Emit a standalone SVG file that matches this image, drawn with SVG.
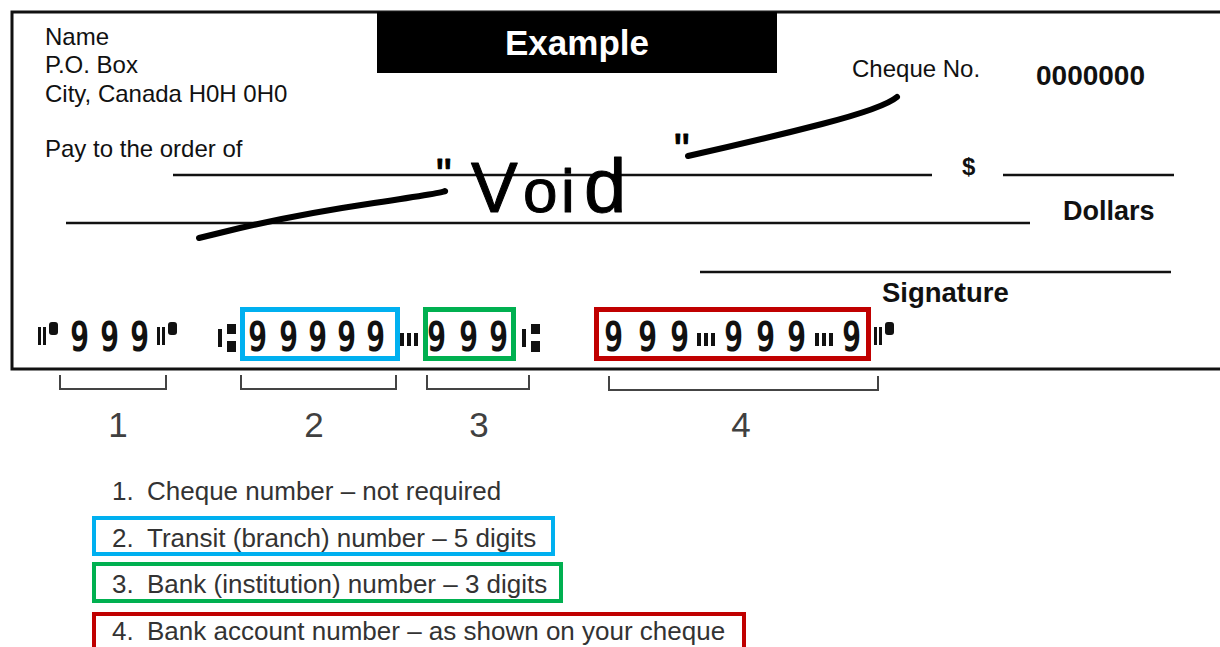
<svg xmlns="http://www.w3.org/2000/svg" width="1220" height="647" viewBox="0 0 1220 647">
<style>
 .t{font-family:"Liberation Sans",Arial,sans-serif;fill:#111}
 .reg{font-size:24px}
 .b{font-weight:bold}
 .rule{stroke:#111;stroke-width:2.5;fill:none}
 .micr{font-family:"DejaVu Sans Mono","Liberation Mono",monospace;font-weight:bold;font-size:40px;fill:#111}
 .sym{fill:#111}
 .box{fill:none;stroke-width:5}
 .lbox{fill:none;stroke-width:4}
 .blue{stroke:#00B0F0}.green{stroke:#00B050}.red{stroke:#C00000}
 .br{fill:none;stroke:#444;stroke-width:2}
 .num{font-family:"Liberation Sans",Arial,sans-serif;font-size:35px;fill:#404040;text-anchor:middle}
 .leg{font-family:"Liberation Sans",Arial,sans-serif;font-size:26px;fill:#333}
 .scr{fill:none;stroke:#000;stroke-width:6;stroke-linecap:round;stroke-linejoin:round}
 .void{font-family:"Liberation Sans",Arial,sans-serif;font-size:70px;fill:#000;stroke:#000;stroke-width:1;stroke-linejoin:round}
</style>
<defs>
 <g id="onus"><rect x="0" y="5" width="3" height="18"/><rect x="5" y="5" width="3" height="18"/><rect x="11" y="0" width="9" height="13" rx="3"/></g>
 <g id="transit"><rect x="0" y="5" width="4" height="18"/><rect x="9" y="0" width="9" height="10"/><rect x="9" y="17" width="9" height="11"/></g>
 <g id="dash"><rect x="0" y="0" width="4" height="13"/><rect x="7" y="0" width="4" height="13"/><rect x="14" y="0" width="4" height="13"/></g>
</defs>

<g id="cheque">
 <path d="M1220,12 H12 V369 H1220" fill="none" stroke="#111" stroke-width="3"/>
 <rect x="377" y="12" width="400" height="61" fill="#000"/>
 <text class="t b" x="577" y="55" font-size="35" style="fill:#fff" text-anchor="middle">Example</text>
</g>

<g id="address">
 <text class="t reg" x="45" y="45">Name</text>
 <text class="t reg" x="45" y="73">P.O. Box</text>
 <text class="t reg" x="45" y="102">City, Canada H0H 0H0</text>
</g>

<g id="cheque-no">
 <text class="t" x="852" y="77" font-size="24">Cheque No.</text>
 <text class="t b" x="1036" y="85" font-size="28">0000000</text>
</g>

<g id="payee">
 <text class="t reg" x="45" y="157">Pay to the order of</text>
 <line class="rule" x1="173" y1="175" x2="932" y2="175"/>
 <text class="t b" x="962" y="175" font-size="24">$</text>
 <line class="rule" x1="1003" y1="175" x2="1174" y2="175" stroke-width="3"/>
 <line class="rule" x1="66" y1="223" x2="1030" y2="223"/>
 <text class="t b" x="1063" y="220" font-size="27">Dollars</text>
</g>

<g id="signature">
 <line class="rule" x1="700" y1="272" x2="1171" y2="272" stroke-width="3"/>
 <text class="t b" x="882" y="302" font-size="27.5">Signature</text>
</g>

<g id="void">
 <path class="scr" d="M199,238 L240,228 Q300,214 374,203 T445,191"/>
 <path class="scr" d="M688,156 Q760,140 822,124 T897,97"/>
 <text class="void"><tspan x="436" y="190" font-size="44">"</tspan><tspan x="471" y="212">V</tspan><tspan x="523 561" y="212" font-size="62">oi</tspan><tspan x="584" y="212" font-size="76">d</tspan><tspan x="674" y="165" font-size="44">"</tspan></text>
</g>

<g id="micr">
 <use href="#onus" class="sym" x="38" y="322"/>
 <text class="micr" transform="scale(0.8,1)" x="87.5 125 162.5" y="351">999</text>
 <use href="#onus" class="sym" x="157" y="322"/>
 <use href="#transit" class="sym" x="218" y="324"/>
 <text class="micr" transform="scale(0.8,1)" x="310 348.75 385 421.25 457.5" y="351">99999</text>
 <use href="#dash" class="sym" x="400" y="333"/>
 <text class="micr" transform="scale(0.8,1)" x="533.75 573.75 611.25" y="351">999</text>
 <use href="#transit" class="sym" x="522" y="324"/>
 <text class="micr" transform="scale(0.8,1)" x="755 797.5 837.5" y="351">999</text>
 <use href="#dash" class="sym" x="697" y="333"/>
 <text class="micr" transform="scale(0.8,1)" x="905 945 983.75" y="351">999</text>
 <use href="#dash" class="sym" x="815" y="333"/>
 <text class="micr" transform="scale(0.8,1)" x="1052.5" y="351">9</text>
 <use href="#onus" class="sym" x="874" y="322"/>
</g>

<g id="highlights">
 <rect class="box blue" x="242.5" y="309.5" width="155" height="49"/>
 <rect class="box green" x="425.5" y="309.5" width="88" height="49"/>
 <rect class="box red" x="596.5" y="309.5" width="272" height="49"/>
</g>

<g id="connectors">
 <path class="br" d="M60,375 V389 H166 V375"/>
 <path class="br" d="M241,375 V389 H396 V375"/>
 <path class="br" d="M427,375 V389 H529 V375"/>
 <path class="br" d="M609,376 V390 H878 V376"/>
</g>

<g id="labels">
 <text class="num" x="118" y="437">1</text>
 <text class="num" x="314" y="437">2</text>
 <text class="num" x="479" y="437">3</text>
 <text class="num" x="741" y="437">4</text>
</g>

<g id="legend-1">
 <text class="leg" y="500"><tspan x="112">1.</tspan><tspan x="147">Cheque number – not required</tspan></text>
</g>
<g id="legend-2">
 <rect class="lbox blue" x="94" y="518" width="459" height="36"/>
 <text class="leg" y="547"><tspan x="112">2.</tspan><tspan x="147">Transit (branch) number – 5 digits</tspan></text>
</g>
<g id="legend-3">
 <rect class="lbox green" x="94" y="564" width="467" height="37"/>
 <text class="leg" y="593"><tspan x="112">3.</tspan><tspan x="147">Bank (institution) number – 3 digits</tspan></text>
</g>
<g id="legend-4">
 <rect class="lbox red" x="94" y="614" width="650" height="50"/>
 <text class="leg" y="640"><tspan x="112">4.</tspan><tspan x="147">Bank account number – as shown on your cheque</tspan></text>
</g>
</svg>
